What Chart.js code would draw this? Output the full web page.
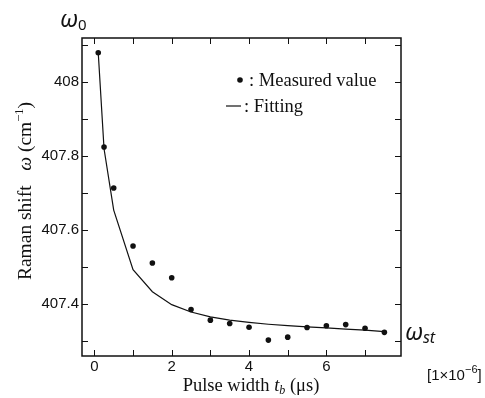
<!DOCTYPE html>
<html>
<head>
<meta charset="utf-8">
<script src="https://cdn.jsdelivr.net/npm/chart.js@4.4.0/dist/chart.umd.min.js"></script>
<style>
  html, body { margin: 0; padding: 0; background: #fff; }
  #wrap { width: 485px; height: 398px; }
</style>
</head>
<body>
<div id="wrap"><canvas id="chart1" width="485" height="398"></canvas></div>
<script>
// pulse width (us)
const pulseWidth = [0.1, 0.25, 0.5, 1, 1.5, 2, 2.5, 3, 3.5, 4, 4.5, 5, 5.5, 6, 6.5, 7, 7.5];
// measured raman shift (cm-1)
const measured = [408.08, 407.825, 407.714, 407.557, 407.511, 407.471, 407.385, 407.356, 407.347, 407.337, 407.302, 407.31, 407.336, 407.341, 407.344, 407.334, 407.323];
// fitting curve
const fitting = [408.08, 407.82, 407.654, 407.493, 407.433, 407.398, 407.378, 407.365, 407.356, 407.35, 407.345, 407.341, 407.338, 407.335, 407.332, 407.329, 407.325];

const xTicks = [0, 1, 2, 3, 4, 5, 6, 7];
const xLabels = ["0", "", "2", "", "4", "", "6", ""];
const yTicks = [407.3, 407.4, 407.5, 407.6, 407.7, 407.8, 407.9, 408, 408.1];
const yLabels = ["", "407.4", "", "407.6", "", "407.8", "", "408", ""];

const serif = "'Liberation Serif', 'Times New Roman', serif";
const sans = "'Liberation Sans', Arial, sans-serif";
const ink = "#111";

// draws a run of text pieces: [text, font, dy]
function drawRun(ctx, parts, x, y) {
  let cx = x;
  parts.forEach((p) => {
    ctx.font = p[1];
    ctx.fillText(p[0], cx, y + (p[2] || 0));
    cx += ctx.measureText(p[0]).width;
  });
  return cx;
}
function runWidth(ctx, parts) {
  let w = 0;
  parts.forEach((p) => {
    ctx.font = p[1];
    w += ctx.measureText(p[0]).width;
  });
  return w;
}

const decorations = {
  id: "decorations",
  afterDraw(chart) {
    const ctx = chart.ctx;
    const a = chart.chartArea;
    const xs = chart.scales.x;
    const ys = chart.scales.y;
    ctx.save();
    ctx.strokeStyle = ink;
    ctx.fillStyle = ink;

    // frame
    ctx.lineWidth = 1.5;
    ctx.strokeRect(a.left, a.top, a.right - a.left, a.bottom - a.top);

    // inward ticks
    ctx.lineWidth = 1;
    ctx.beginPath();
    xs.ticks.forEach((t) => {
      const px = Math.round(xs.getPixelForValue(t.value)) + 0.5;
      ctx.moveTo(px, a.bottom); ctx.lineTo(px, a.bottom - 6);
      ctx.moveTo(px, a.top); ctx.lineTo(px, a.top + 6);
    });
    ys.ticks.forEach((t) => {
      const py = Math.round(ys.getPixelForValue(t.value)) + 0.5;
      ctx.moveTo(a.left, py); ctx.lineTo(a.left + 6, py);
      ctx.moveTo(a.right, py); ctx.lineTo(a.right - 6, py);
    });
    ctx.stroke();

    ctx.textBaseline = "alphabetic";
    ctx.textAlign = "left";

    // y axis title
    const yTitle = [
      ["Raman shift   ", "19.5px " + serif],
      ["\u03c9", "italic 19.5px " + serif],
      [" (cm", "19.5px " + serif],
      ["\u22121", "12.5px " + serif, -8],
      [")", "19.5px " + serif]
    ];
    ctx.save();
    ctx.translate(31, 191);
    ctx.rotate(-Math.PI / 2);
    drawRun(ctx, yTitle, -runWidth(ctx, yTitle) / 2, 0);
    ctx.restore();

    // x axis title
    const xTitle = [
      ["Pulse width ", "18.5px " + serif],
      ["t", "italic 18.5px " + serif],
      ["b", "italic 12px " + serif, 3],
      [" (\u03bcs)", "18.5px " + serif]
    ];
    drawRun(ctx, xTitle, 251 - runWidth(ctx, xTitle) / 2, 391);

    // omega labels
    drawRun(ctx, [["\u03c9", "italic 23px 'Noto Sans'"], ["0", "15px 'Noto Sans'", 3]], 60, 27);
    drawRun(ctx, [["\u03c9", "italic 23px 'Noto Sans'"], ["st", "italic 16px 'Noto Sans'", 3]], 405, 340);

    // scale factor
    drawRun(ctx, [["[1\u00d710", "15px " + sans], ["\u22126", "11px " + sans, -7], ["]", "15px " + sans]], 427, 380);

    // legend
    const ds = chart.data.datasets;
    ctx.beginPath();
    ctx.arc(240, 80, 2.8, 0, Math.PI * 2);
    ctx.fill();
    ctx.font = "18.5px " + serif;
    ctx.fillText(": " + ds[0].label, 249, 86);
    ctx.lineWidth = 1.2;
    ctx.beginPath();
    ctx.moveTo(226, 106); ctx.lineTo(241, 106);
    ctx.stroke();
    ctx.fillText(": " + ds[1].label, 244, 112);

    ctx.restore();
  }
};

const chart1 = document.querySelector("#chart1");

new Chart(chart1, {
  type: "scatter",
  data: {
    datasets: [
      {
        label: "Measured value",
        data: pulseWidth.map((x, i) => ({ x: x, y: measured[i] })),
        pointRadius: 2.8,
        pointBackgroundColor: ink,
        pointBorderWidth: 0,
        showLine: false
      },
      {
        label: "Fitting",
        data: pulseWidth.map((x, i) => ({ x: x, y: fitting[i] })),
        showLine: true,
        borderColor: ink,
        borderWidth: 1.2,
        pointRadius: 0,
        tension: 0
      }
    ]
  },
  options: {
    responsive: false,
    animation: false,
    layout: { padding: { top: 38, right: 84, left: 0, bottom: 0 } },
    scales: {
      x: {
        type: "linear",
        min: -0.32,
        max: 7.93,
        afterBuildTicks: (s) => { s.ticks = xTicks.map((v) => ({ value: v })); },
        afterFit: (s) => { s.height = 42; },
        grid: { display: false, drawTicks: false },
        border: { display: false },
        ticks: {
          autoSkip: false,
          maxRotation: 0,
          padding: 2,
          color: ink,
          font: { family: sans, size: 15 },
          callback: (v) => xLabels[xTicks.indexOf(v)] || ""
        }
      },
      y: {
        type: "linear",
        min: 407.259,
        max: 408.12,
        afterBuildTicks: (s) => { s.ticks = yTicks.map((v) => ({ value: v })); },
        afterFit: (s) => { s.width = 82; },
        grid: { display: false, drawTicks: false },
        border: { display: false },
        ticks: {
          autoSkip: false,
          padding: 3,
          color: ink,
          font: { family: sans, size: 15 },
          callback: (v) => yLabels[yTicks.indexOf(v)] || ""
        }
      }
    },
    plugins: {
      legend: { display: false },
      tooltip: { enabled: false }
    }
  },
  plugins: [decorations]
});
</script>
</body>
</html>
